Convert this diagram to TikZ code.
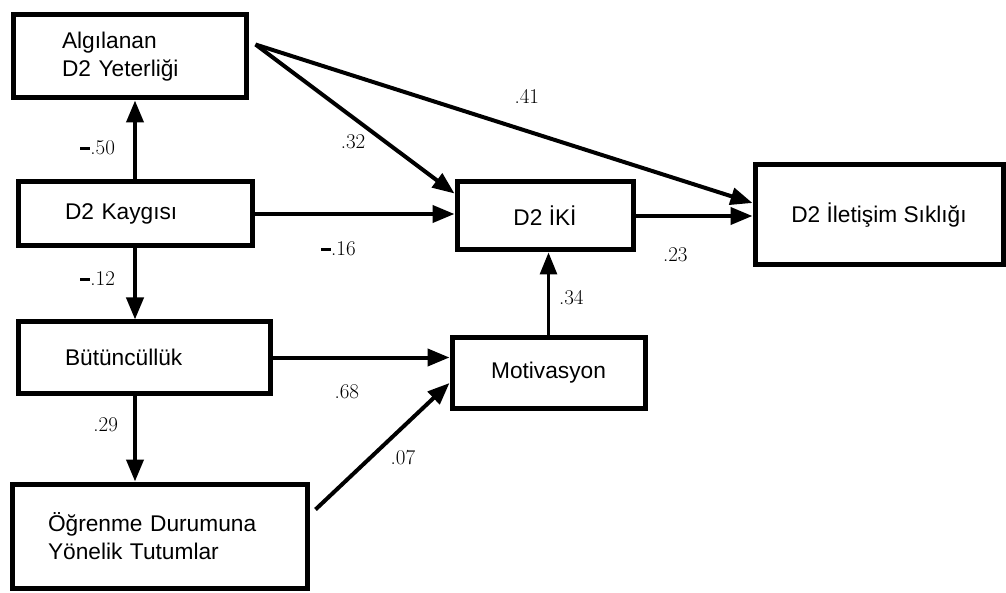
\documentclass[tikz,border=0pt]{standalone}
\usepackage{fontspec}
\newfontfamily\boxfont{Liberation Sans}
\usetikzlibrary{arrows.meta}
\newcommand{\negdash}{\rule[4.5pt]{10pt}{3pt}}

\begin{document}
\begin{tikzpicture}[x=1pt, y=-1pt,
    var/.style={rectangle, draw, line width=5pt, inner sep=0pt, font={\boxfont\fontsize{22.7}{28}\selectfont}},
    effect/.style={draw, line width=4pt, -{Triangle[length=22pt,width=17pt]}},
    coef/.style={inner sep=0pt, font={\fontsize{21}{24}\selectfont}}
]
    \useasboundingbox (0,0) rectangle (1006,593);

    \node[var, minimum width=233pt, minimum height=83pt, text width=135pt, align=left] (alg) at (129.5,56.5) {Algılanan\\D2 Yeterliği};
    \node[var, minimum width=234pt, minimum height=64pt, text width=140pt, align=left] (kay) at (135,214) {D2 Kaygısı};
    \node[var, minimum width=252pt, minimum height=71pt, text width=158pt, align=left] (but) at (144,357.5) {Bütüncüllük};
    \node[var, minimum width=295pt, minimum height=104pt, text width=223pt, align=left] (ogr) at (159.5,536) {Öğrenme Durumuna\\Yönelik Tutumlar};
    \node[var, minimum width=176pt, minimum height=68pt] (iki) at (545,216) {D2 İKİ};
    \node[var, minimum width=193pt, minimum height=70pt] (mot) at (548.5,373) {Motivasyon};
    \node[var, minimum width=248pt, minimum height=100pt] (ile) at (879,215) {D2 İletişim Sıklığı};

    \coordinate (src) at ([xshift=7pt,yshift=12pt]alg.east);
    \coordinate (ogrout) at ([xshift=6pt,yshift=-28pt]ogr.north east);

    \draw[effect] (kay.north) -- (kay.north |- alg.south) node[coef, pos=0.4, left=18pt] {\negdash.50};
    \draw[effect] (kay.south) -- (kay.south |- but.north) node[coef, pos=0.42, left=18pt] {\negdash.12};
    \draw[effect] (kay.south |- but.south) -- (kay.south |- ogr.north) node[coef, pos=0.34, left=15pt] {.29};
    \draw[effect] (src) -- ([yshift=-14pt]iki.north west) node[coef, pos=0.49, below=15pt] {.32};
    \draw[effect] (src) -- ([yshift=12pt]ile.west) node[coef, pos=0.546, above=26pt] {.41};
    \draw[effect] (kay.east) -- (kay.east -| iki.west) node[coef, pos=0.42, below=26pt] {\negdash.16};
    \draw[effect] (iki.east) -- (iki.east -| ile.west) node[coef, pos=0.34, below=30pt] {.23};
    \draw[effect] (but.east) -- (but.east -| mot.west) node[coef, pos=0.42, below=25pt] {.68};
    \draw[effect] (ogrout) -- ([yshift=-10pt]mot.west) node[coef, pos=0.653, below=21pt] {.07};
    \draw[effect, line width=3pt] (mot.north) -- (mot.north |- iki.south) node[coef, pos=0.46, right=9pt] {.34};
\end{tikzpicture}
\end{document}
